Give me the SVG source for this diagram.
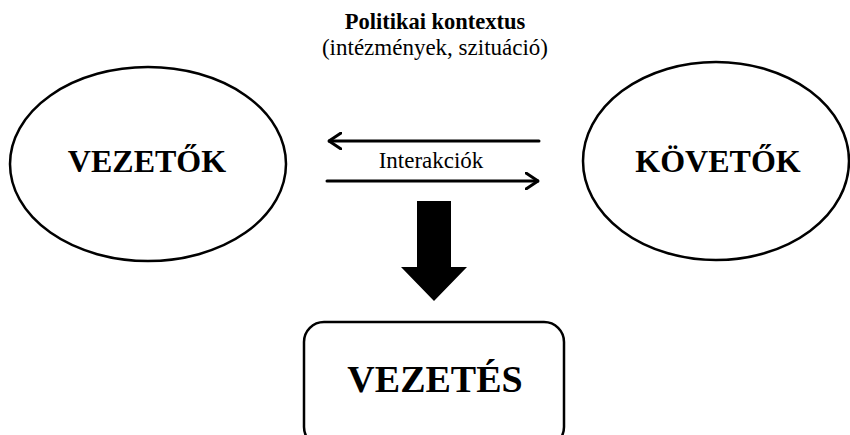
<svg xmlns="http://www.w3.org/2000/svg" width="850" height="435" viewBox="0 0 850 435">
<style>
.t{font-family:"Liberation Serif","Times New Roman",serif;fill:#000;text-anchor:middle}
.b{font-weight:bold}
.node{fill:#fff;stroke:#000;stroke-width:2.5}
.line{fill:none;stroke:#000;stroke-width:3;stroke-linecap:round;stroke-linejoin:round}
</style>
<defs>
<marker id="open" viewBox="0 0 14 18" refX="13" refY="9" markerWidth="14" markerHeight="18" markerUnits="userSpaceOnUse" orient="auto">
<path d="M1,1 L13,9 L1,17" fill="none" stroke="#000" stroke-width="3" stroke-linecap="round" stroke-linejoin="round"/>
</marker>
</defs>
<rect width="850" height="435" fill="#fff"/>
<g id="context">
<text class="t b" x="435" y="29" font-size="22.5">Politikai kontextus</text>
<text class="t" x="435" y="55" font-size="23">(intézmények, szituáció)</text>
</g>
<g id="vezetok">
<ellipse class="node" cx="148" cy="164" rx="138" ry="97"/>
<text class="t b" x="147" y="172" font-size="32">VEZETŐK</text>
</g>
<g id="kovetok">
<ellipse class="node" cx="716" cy="161" rx="133" ry="99"/>
<text class="t b" x="718" y="172" font-size="32">KÖVETŐK</text>
</g>
<g id="vezetes">
<rect class="node" x="304" y="322" width="260" height="125" rx="20"/>
<text class="t b" x="435" y="392" font-size="38">VEZETÉS</text>
</g>
<g id="connectors">
<line class="line" x1="539" y1="141" x2="329" y2="141" marker-end="url(#open)"/>
<line class="line" x1="327" y1="181" x2="538" y2="181" marker-end="url(#open)"/>
<text class="t" x="431" y="168" font-size="23">Interakciók</text>
<path d="M417,201 H451 V267 H467 L434,301 L401,267 H417 Z" fill="#000"/>
</g>
</svg>
